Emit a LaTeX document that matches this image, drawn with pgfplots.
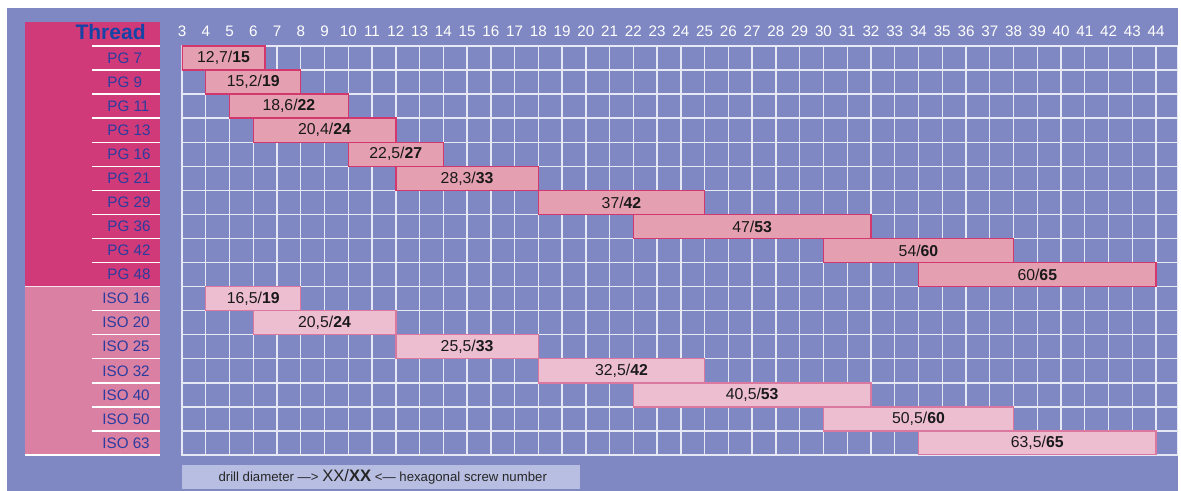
\documentclass[border=0pt]{standalone}
\usepackage{pgfplots}
\pgfplotsset{compat=1.18}
\usepackage{pgfplotstable}
\usepackage{fontspec}
\setmainfont{Liberation Sans}

\definecolor{panel}{HTML}{7F88C2}
\definecolor{pgblock}{HTML}{D03A78}
\definecolor{isoblock}{HTML}{D980A3}
\definecolor{pgfill}{HTML}{E4A0B0}
\definecolor{pgline}{HTML}{D2386E}
\definecolor{isofill}{HTML}{ECBED0}
\definecolor{isoline}{HTML}{DA78A0}
\definecolor{lblblue}{HTML}{2C3C9E}
\definecolor{threadc}{HTML}{1444A6}
\definecolor{legbox}{HTML}{B8BEE2}
\definecolor{gridc}{HTML}{E6E8F6}

% row  start  length  label (drill diameter / hexagonal screw number)
\pgfplotstableread{
row start len lbl
0 3 3.5 12,7/\textbf{15}
1 4 4 15,2/\textbf{19}
2 5 5 18,6/\textbf{22}
3 6 6 20,4/\textbf{24}
4 10 4 22,5/\textbf{27}
5 12 6 28,3/\textbf{33}
6 18 7 37/\textbf{42}
7 22 10 47/\textbf{53}
8 30 8 54/\textbf{60}
9 34 10 60/\textbf{65}
}\pgdata
\pgfplotstableread{
row start len lbl
10 4 4 16,5/\textbf{19}
11 6 6 20,5/\textbf{24}
12 12 6 25,5/\textbf{33}
13 18 7 32,5/\textbf{42}
14 22 10 40,5/\textbf{53}
15 30 8 50,5/\textbf{60}
16 34 10 63,5/\textbf{65}
}\isodata

\pgfplotsset{
  common/.style={
    x=11.88pt, y=12.03pt, y dir=reverse,
    xmin=3, xmax=44.9, ymin=-0.5, ymax=16.5,
    at={(0,0)}, anchor=south west,
  },
  barlabels/.style={
    only marks, mark=*, mark size=0pt, mark options={draw=none, fill=none},
    point meta=explicit symbolic, nodes near coords,
    every node near coord/.append style={anchor=center, inner sep=0pt,
      text=black!90, font=\fontsize{7.9}{9}\selectfont},
  },
}

\begin{document}
\begin{tikzpicture}
% decorations (panel, left blocks, legend)
\begin{axis}[common, hide axis, clip=false]
  \coordinate (bbBL) at (axis cs:-4.66,17.995);
  \coordinate (bbTR) at (axis cs:45.05,-2.412);
  \fill[panel] (axis cs:-4.365,-2.079) rectangle (axis cs:44.92,17.995);
  \fill[pgblock] (axis cs:-3.608,-1.5) rectangle (axis cs:2.074,9.5);
  \fill[isoblock] (axis cs:-3.608,9.5) rectangle (axis cs:2.074,16.5);
  \pgfplotsinvokeforeach{-0.5,0.5,1.5,2.5,3.5,4.5,5.5,6.5,7.5,8.5,10.5,11.5,12.5,13.5,14.5,15.5}{
    \draw[white, line width=0.7pt] (axis cs:-0.788,#1) -- (axis cs:2.074,#1);
  }
  \draw[white!85!pgblock, line width=0.7pt] (axis cs:-3.608,9.5) -- (axis cs:2.074,9.5);
  \draw[white, line width=0.8pt] (axis cs:-3.608,16.5) -- (axis cs:2.074,16.5);
  \node[anchor=base east, inner sep=0pt, text=threadc,
        font=\fontsize{10.5}{12}\selectfont\bfseries] at (axis cs:1.485,-0.778) {Thread};
  \fill[legbox] (axis cs:3,16.915) rectangle (axis cs:19.75,17.91);
  \node[inner sep=0pt, text=black!85, font=\fontsize{6.6}{8}\selectfont]
    at (axis cs:11.45,17.41) {drill diameter —> {\fontsize{8.3}{9}\selectfont XX/\textbf{XX}} <— hexagonal screw number};
\end{axis}

% grid, ticks and PG bars
\begin{axis}[common,
  xbar stacked, bar width=1,
  xtick={3,4,...,44}, xticklabel pos=upper,
  ytick={0,1,...,16},
  yticklabels={PG 7,PG 9,PG 11,PG 13,PG 16,PG 21,PG 29,PG 36,PG 42,PG 48,
    \hspace{-2.5pt}ISO 16,\hspace{-2.5pt}ISO 20,\hspace{-2.5pt}ISO 25,\hspace{-2.5pt}ISO 32,
    \hspace{-2.5pt}ISO 40,\hspace{-2.5pt}ISO 50,\hspace{-2.5pt}ISO 63},
  minor ytick={-0.5,0.5,1.5,2.5,3.5,4.5,5.5,6.5,7.5,8.5,9.5,10.5,11.5,12.5,13.5,14.5,15.5,16.5},
  xmajorgrids=true, ymajorgrids=false, yminorgrids=true,
  major grid style={gridc, line width=0.7pt},
  minor grid style={gridc, line width=0.7pt},
  axis line style={gridc, line width=0.7pt},
  major tick length=0pt, minor tick length=0pt,
  /pgf/number format/assume math mode=true,
  xticklabel style={text=white, font=\fontsize{7.6}{9}\selectfont, yshift=1.2pt},
  yticklabel style={anchor=west, inner sep=0pt, xshift=-37.5pt, text=lblblue,
    font=\fontsize{7.6}{9}\selectfont},
]
  \addplot[draw=none, fill=none] table[x=start, y=row] {\pgdata};
  \addplot[fill=pgfill, draw=pgline, line width=0.7pt] table[x=len, y=row] {\pgdata};
\end{axis}

% ISO bars
\begin{axis}[common, hide axis, xbar stacked, bar width=1]
  \addplot[draw=none, fill=none] table[x=start, y=row] {\isodata};
  \addplot[fill=isofill, draw=isoline, line width=0.7pt] table[x=len, y=row] {\isodata};
\end{axis}

% bar labels, centred in each bar
\begin{axis}[common, hide axis]
  \addplot[barlabels] table[x expr=\thisrow{start}+0.5*\thisrow{len}, y=row, meta=lbl] {\pgdata};
  \addplot[barlabels] table[x expr=\thisrow{start}+0.5*\thisrow{len}, y=row, meta=lbl] {\isodata};
\end{axis}

\pgfresetboundingbox
\path[use as bounding box] (bbBL) rectangle (bbTR);
\end{tikzpicture}
\end{document}
